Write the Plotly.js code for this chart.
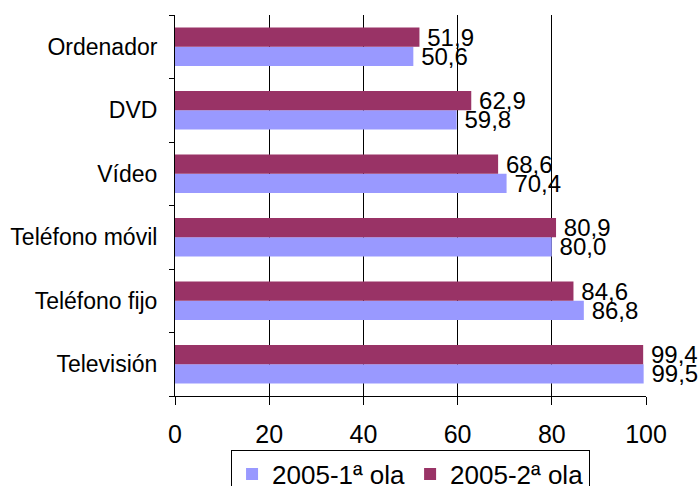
<!DOCTYPE html>
<html>
<head>
<meta charset="utf-8">
<script src="https://cdn.plot.ly/plotly-3.0.1.min.js"></script>
<style>html,body{margin:0;padding:0;background:#fff;}#chart{width:698px;height:486px;}</style>
</head>
<body>
<div id="chart"></div>
<script>
const categories = ["Televisión", "Teléfono fijo", "Teléfono móvil", "Vídeo", "DVD", "Ordenador"];
const ola1 = [99.5, 86.8, 80.0, 70.4, 59.8, 50.6];
const ola2 = [99.4, 84.6, 80.9, 68.6, 62.9, 51.9];
const seriesNames = ["2005-1ª ola", "2005-2ª ola"];
const xTicks = [0, 20, 40, 60, 80, 100];

const FONT = "'Liberation Sans', Arial, sans-serif";
function mk(name, vals, color) {
  return {
    type: "bar", orientation: "h", name: name,
    y: categories, x: vals,
    marker: {color: color, line: {width: 0}},
    texttemplate: "\u2009%{x:.1f}", textposition: "outside",
    constraintext: "none", cliponaxis: false,
    textfont: {family: FONT, size: 24, color: "#000"},
    hoverinfo: "skip"
  };
}
const data = [mk(seriesNames[0], ola1, "#9999FF"), mk(seriesNames[1], ola2, "#993366")];
const layout = {
  width: 698, height: 486,
  margin: {l: 175, r: 52, t: 15, b: 90, pad: 0, autoexpand: false},
  paper_bgcolor: "#fff", plot_bgcolor: "#fff",
  separators: ",.",
  barmode: "group", bargap: 0.395, bargroupgap: 0,
  font: {family: FONT, color: "#000"},
  showlegend: true,
  legend: {orientation: "h", x: 0.119, xanchor: "left", y: -0.141, yanchor: "top",
    bordercolor: "#000", borderwidth: 1, font: {family: FONT, size: 26, color: "#000"},
    traceorder: "normal", itemwidth: 30, tracegroupgap: 0},
  xaxis: {range: [0, 100], tickvals: xTicks, ticktext: xTicks.map(String),
    showgrid: true, gridcolor: "#000", gridwidth: 1,
    showline: true, linecolor: "#000", linewidth: 1,
    ticks: "outside", ticklen: 8, tickcolor: "#000", ticklabelstandoff: 8,
    tickfont: {family: FONT, size: 25, color: "#000"},
    zeroline: false, fixedrange: true},
  yaxis: {type: "category", showline: true, linecolor: "#000", linewidth: 1,
    ticks: "outside", ticklen: 5, tickcolor: "#000", tickson: "boundaries",
    showgrid: false, ticklabelstandoff: 12,
    tickfont: {family: FONT, size: 23, color: "#000"}, fixedrange: true}
};
Plotly.newPlot("chart", data, layout, {displayModeBar: false, staticPlot: true});
</script>
</body>
</html>
